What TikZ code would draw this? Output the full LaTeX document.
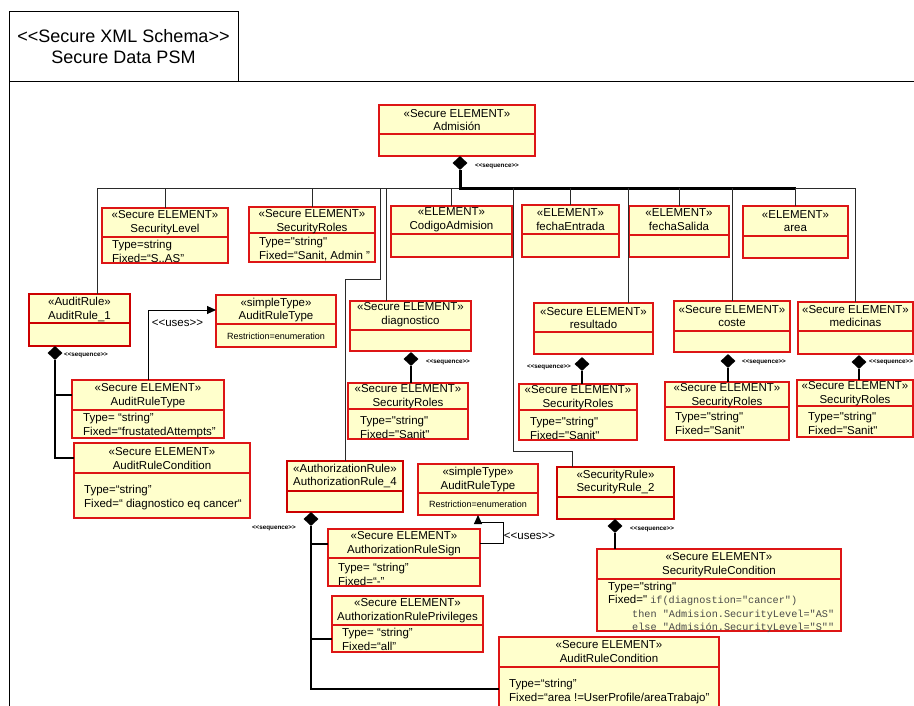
\documentclass[tikz,border=0pt]{standalone}
\usepackage{fontspec}
\newfontfamily\uml{Liberation Sans}
\newfontfamily\umlmono{Liberation Mono}
\usetikzlibrary{shapes.geometric,arrows.meta}

\definecolor{boxfill}{HTML}{FFFFCC}
\definecolor{boxline}{HTML}{DD1515}
\definecolor{ruleline}{HTML}{CC0000}
\definecolor{wire}{HTML}{2A2A2A}
\definecolor{codegray}{HTML}{4A4A4A}

\tikzset{
  frame/.style={rectangle, draw=boxline, line width=1.1pt, fill=boxfill, inner sep=0pt, outer sep=0pt},
  rulebox/.style={draw=ruleline, line width=2pt},
  hdr/.style={font=\uml\fontsize{11.5}{13.8}\selectfont, align=center, inner sep=0pt},
  attr/.style={font=\uml\fontsize{11.5}{14.2}\selectfont, align=left, inner sep=0pt, anchor=north west},
  small/.style={font=\uml\fontsize{9}{11}\selectfont, inner sep=0pt},
  seq/.style={font=\uml\bfseries\fontsize{6.3}{7}\selectfont, inner sep=0pt},
  usestxt/.style={font=\uml\fontsize{11.5}{13}\selectfont, inner sep=0pt},
  diam/.style={diamond, fill=black, inner sep=0pt, minimum width=15pt, minimum height=14pt},
  link/.style={draw=wire, line width=1pt},
  trunk/.style={draw=black, line width=3pt},
  own/.style={draw=black, line width=1.3pt},
  uses/.style={draw=black, line width=1pt, -{Triangle[length=9pt,width=8pt]}},
  outline/.style={draw=black, line width=1pt},
}

% class box: [style]{name}{x1}{y1}{x2}{y2}{divider y}{header centre y}{header}
\newcommand\classbox[9][]{%
  \node[frame,#1,minimum width={(#5-#3)*1pt},minimum height={(#6-#4)*1pt}]
    (#2) at ({(#3+#5)/2},{(#4+#6)/2}) {};
  \draw[frame,#1,fill=none] (#3,#7) -- (#5,#7);
  \node[hdr] (#2-h) at ({(#3+#5)/2},#8) {#9};
}

\begin{document}
\begin{tikzpicture}[x=1pt,y=-1pt]
\path[use as bounding box] (0,0) rectangle (914,706);
\clip (0,0) rectangle (914,706);
\fill[white] (0,0) rectangle (914,706);

% package frame with its title tab
\node[outline, rectangle, minimum width=229pt, minimum height=70pt, inner sep=0pt, outer sep=0pt,
      align=center, font=\uml\fontsize{18}{21}\selectfont] (title) at (123.5,47)
      {<<Secure XML Schema>>\\Secure Data PSM};
\coordinate (frame-r) at (914,82);
\coordinate (frame-b) at (9,706);
\draw[outline] (frame-b) -- (title.south west);
\draw[outline] (title.south east) -- (frame-r);

% root element
\classbox{adm}{379}{105}{535}{156}{134}{120}{«Secure ELEMENT»\\Admisión}

% first level
\classbox{sl}{102}{208}{228}{263}{237}{222.5}{«Secure ELEMENT»\\SecurityLevel}
\node[attr] (sl-a) at (112,239.7) {Type=string\\Fixed=“S..AS”};
\classbox{sro}{249}{207}{375}{262}{233}{221.5}{«Secure ELEMENT»\\SecurityRoles}
\node[attr] (sro-a) at (259,236.7) {Type="string"\\Fixed=“Sanit, Admin ”};
\classbox{cod}{391}{206}{512}{257}{234}{220}{«ELEMENT»\\CodigoAdmision}
\classbox{fe}{522}{205}{619}{257}{234}{220}{«ELEMENT»\\fechaEntrada}
\classbox{fs}{629}{206}{729}{257}{235}{220}{«ELEMENT»\\fechaSalida}
\classbox{area}{743}{206}{848}{258}{236}{221}{«ELEMENT»\\area}

% audit rule
\classbox[rulebox]{ar1}{29}{294}{130}{346}{323}{309.5}{«AuditRule»\\AuditRule\_1}
\classbox{st1}{216}{295}{336}{347}{324}{310}{«simpleType»\\AuditRuleType}
\node[small] (st1-a) at (276,336) {Restriction=enumeration};
\classbox{art}{72}{380}{224}{438}{410}{396}{«Secure ELEMENT»\\AuditRuleType}
\node[attr] (art-a) at (83,412.7) {Type= “string”\\Fixed=“frustatedAttempts”};
\classbox{arc}{74}{443}{250}{518}{473}{458.5}{«Secure ELEMENT»\\AuditRuleCondition}
\node[attr] (arc-a) at (84,484.7) {Type=“string”\\Fixed=“ diagnostico eq cancer“};

% secured elements with their roles
\classbox{diag}{350}{301}{471}{351}{330}{315}{«Secure ELEMENT»\\diagnostico}
\classbox{dsr}{348}{383}{468}{439}{409}{397}{«Secure ELEMENT»\\SecurityRoles}
\node[attr] (dsr-a) at (360,415.7) {Type="string"\\Fixed="Sanit"};
\classbox{res}{534}{303}{653}{354}{332}{318}{«Secure ELEMENT»\\resultado}
\classbox{rsr}{519}{384}{637}{440}{410}{398}{«Secure ELEMENT»\\SecurityRoles}
\node[attr] (rsr-a) at (530,417) {Type="string"\\Fixed="Sanit"};
\classbox{cos}{674}{301}{790}{352}{331}{316}{«Secure ELEMENT»\\coste}
\classbox{csr}{665}{382}{789}{440}{407}{395.5}{«Secure ELEMENT»\\SecurityRoles}
\node[attr] (csr-a) at (675,411.7) {Type="string"\\Fixed="Sanit"};
\classbox{med}{798}{302}{913}{354}{331}{316}{«Secure ELEMENT»\\medicinas}
\classbox{msr}{797}{380}{913}{437}{406}{394}{«Secure ELEMENT»\\SecurityRoles}
\node[attr] (msr-a) at (808,411.7) {Type="string"\\Fixed="Sanit"};

% authorization rule
\classbox[rulebox]{ar4}{287}{461}{403}{512}{491}{476}{«AuthorizationRule»\\AuthorizationRule\_4}
\classbox{st2}{418}{464}{538}{515}{493}{479.5}{«simpleType»\\AuditRuleType}
\node[small] (st2-a) at (478,504) {Restriction=enumeration};
\classbox{ars}{328}{529}{480}{586}{558}{544}{«Secure ELEMENT»\\AuthorizationRuleSign}
\node[attr] (ars-a) at (338,562.7) {Type= “string”\\Fixed=“-”};
\classbox{arp}{332}{596}{483}{652}{625}{611}{«Secure ELEMENT»\\AuthorizationRulePrivileges}
\node[attr] (arp-a) at (342,627.7) {Type= “string”\\Fixed=“all”};
\classbox{arc2}{499}{637}{719}{725}{667}{651.5}{«Secure ELEMENT»\\AuditRuleCondition}
\node[attr] (arc2-a) at (509,678.7) {Type=“string”\\Fixed=“area !=UserProfile/areaTrabajo”};

% security rule
\classbox[rulebox]{sr2}{557}{467}{674}{519}{497}{482}{«SecurityRule»\\SecurityRule\_2}
\classbox{src}{597}{549}{841}{631}{579}{564.5}{«Secure ELEMENT»\\SecurityRuleCondition}
\node[attr, font=\uml\fontsize{11.5}{13.4}\selectfont] (src-a) at (608,581.7)
  {Type="string"\\
   Fixed=" {\umlmono\fontsize{10.2}{13.4}\selectfont\color{codegray}if(diagnostion="cancer")}\\
   \hspace*{24pt}{\umlmono\fontsize{10.2}{13.4}\selectfont\color{codegray}then "Admision.SecurityLevel="AS"}\\
   \hspace*{24pt}{\umlmono\fontsize{10.2}{13.4}\selectfont\color{codegray}else "Admisión.SecurityLevel="S""}};

% composition diamonds
\node[diam] (d-adm) at (460,163) {};
\node[diam] (d-ar1) at (55,353) {};
\node[diam] (d-diag) at (411,359) {};
\node[diam] (d-res) at (582,364) {};
\node[diam] (d-cos) at (728,361) {};
\node[diam] (d-med) at (859,362) {};
\node[diam] (d-ar4) at (311,519) {};
\node[diam] (d-sr2) at (615,526) {};

\node[seq] (s-adm) at (497,166) {<<sequence>>};
\node[seq] (s-ar1) at (86,355) {<<sequence>>};
\node[seq] (s-diag) at (448,362) {<<sequence>>};
\node[seq] (s-res) at (549,367) {<<sequence>>};
\node[seq] (s-cos) at (764,362) {<<sequence>>};
\node[seq, anchor=west] (s-med) at (869,362) {<<sequence>>};
\node[seq, anchor=east] (s-ar4) at (296,528) {<<sequence>>};
\node[seq, anchor=west] (s-sr2) at (630,529) {<<sequence>>};

% sequence bus under the root
\coordinate (bus) at (460,188.5);
\coordinate (bus-w) at (97,188.5);
\coordinate (bus-m) at (796,188.5);
\coordinate (bus-e) at (med.north |- bus);
\draw[link] (bus-w) -- (bus);
\draw[link] (bus-m) -- (bus-e);
\draw[trunk] (d-adm.south) |- (bus-m);

\draw[link] (bus-w) -- (bus-w |- ar1.north);
\draw[link] (sl.north) -- (sl.north |- bus);
\draw[link] (sro.north) -- (sro.north |- bus);
\draw[link] (cod.north) -- (cod.north |- bus);
\draw[link] (fe.north) -- (fe.north |- bus);
\draw[link] (fs.north) -- (fs.north |- bus);
\draw[link] (area.north) -- (area.north |- bus);
\draw[link] (cos.north) -- (cos.north |- bus);
\draw[link] (med.north) -- (bus-e);
\draw[link] ([xshift=-24.5pt]diag.north) -- ([xshift=-24.5pt]diag.north |- bus);
\draw[link] ([xshift=34.5pt]res.north) -- ([xshift=34.5pt]res.north |- bus);
\coordinate (j4) at (380,279);
\draw[link] (j4 |- bus) -- (j4) -| (ar4.north);
\coordinate (j2) at (513,451);
\draw[link] (j2 |- bus) -- (j2) -| ([xshift=-43.5pt]sr2.north);

% compositions
\draw[own] (d-ar1.south) |- ([yshift=14pt]art.west);
\draw[own] (d-ar1.south) |- ([yshift=22.5pt]arc.west);
\draw[own] (d-diag.south) -- (d-diag.south |- dsr.north);
\draw[own] (d-res.south) -- (d-res.south |- rsr.north);
\draw[own] (d-cos.south) -- (d-cos.south |- csr.north);
\draw[own] (d-med.south) -- (d-med.south |- msr.north);
\draw[own] (d-ar4.south) |- ([yshift=13.5pt]ars.west);
\draw[own] (d-ar4.south) |- ([yshift=-15pt]arp.west);
\draw[own] (d-ar4.south) |- ([yshift=-8pt]arc2.west);
\draw[own] (d-sr2.south) -- (d-sr2.south |- src.north);

% uses dependencies
\draw[uses] (art.north) |- ([yshift=11pt]st1.west);
\node[usestxt] (u1) at (177.5,323) {<<uses>>};
\draw[uses] ([yshift=14.5pt]ars.east) -- ++(23,0) |- ([yshift=-7pt]st2.south) -- (st2.south);
\node[usestxt] (u2) at (529.5,536) {<<uses>>};
\end{tikzpicture}
\end{document}
